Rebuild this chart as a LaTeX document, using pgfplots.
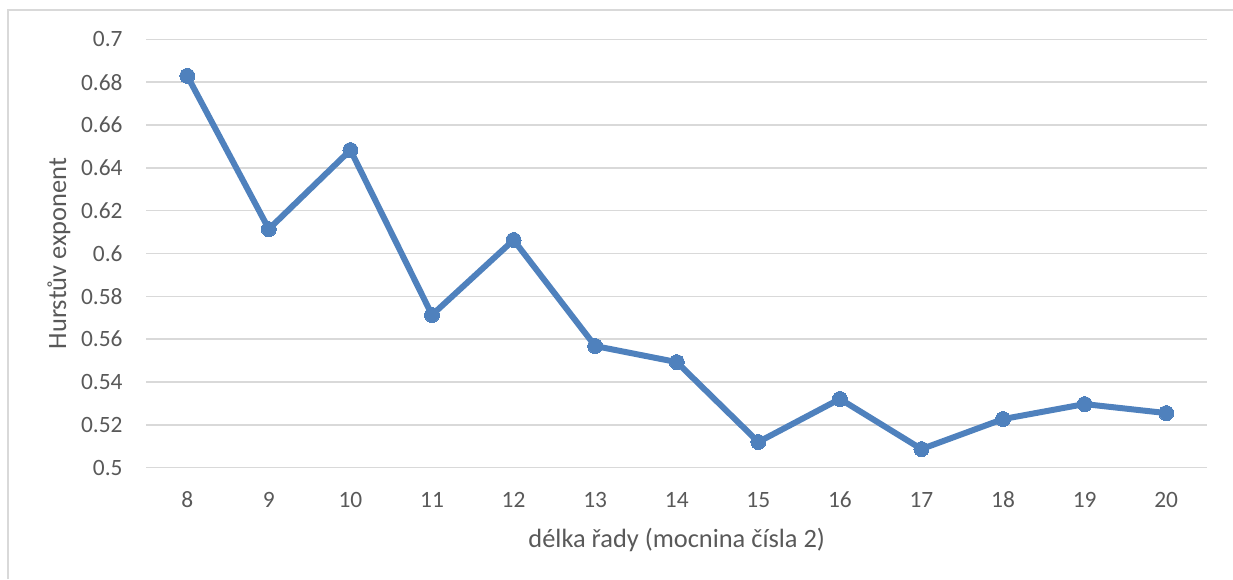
\documentclass[border=0pt]{standalone}
\usepackage{pgfplots}
\pgfplotsset{compat=1.18}
\usepackage{fontspec}
\setmainfont{Carlito}
\definecolor{lineblue}{HTML}{4F81BD}
\definecolor{txtgray}{HTML}{595959}
\definecolor{gridgray}{HTML}{D9D9D9}
\begin{document}
\begin{tikzpicture}
\useasboundingbox (0,0) rectangle (616.5pt,289.5pt);
\draw[gridgray, line width=0.75pt] (4pt,0pt) -- (4pt,284.5pt) -- (616.5pt,284.5pt);
\begin{axis}[
  at={(73.25pt,55.65pt)}, anchor=south west,
  scale only axis, width=530.25pt, height=214.2pt,
  xmin=7.5, xmax=20.5, ymin=0.5, ymax=0.7,
  xtick={8,...,20}, ytick={0.5,0.52,...,0.701},
  axis line style={draw=none},
  tick style={draw=none},
  ymajorgrids, grid style={gridgray, line width=0.75pt},
  /pgf/number format/assume math mode=true,
  /pgf/number format/.cd, fixed, precision=2, /pgfplots/.cd,
  ticklabel style={font=\fontsize{11.7}{13}\selectfont, text=txtgray},
  yticklabel style={anchor=east, inner sep=0pt, xshift=-11.75pt},
  xticklabel style={anchor=center, inner sep=0pt, yshift=-16pt},
  xlabel={délka řady (mocnina čísla 2)},
  ylabel={Hurstův exponent},
  label style={font=\fontsize{13.2}{15}\selectfont, text=txtgray, inner sep=0pt},
  xlabel style={at={(axis description cs:0.5,-0.1874)}, anchor=base},
  ylabel style={at={(axis description cs:-0.0825,0.5)}, anchor=center},
]
\addplot[lineblue, line width=3pt, mark=*, mark size=3.75pt, mark options={fill=lineblue, draw=lineblue, line width=0pt}] coordinates {
(8,0.6829) (9,0.6114) (10,0.6483) (11,0.5713) (12,0.6063) (13,0.5568) (14,0.5493)
(15,0.5120) (16,0.5321) (17,0.5087) (18,0.5227) (19,0.5297) (20,0.5255)
};
\end{axis}
\end{tikzpicture}
\end{document}
